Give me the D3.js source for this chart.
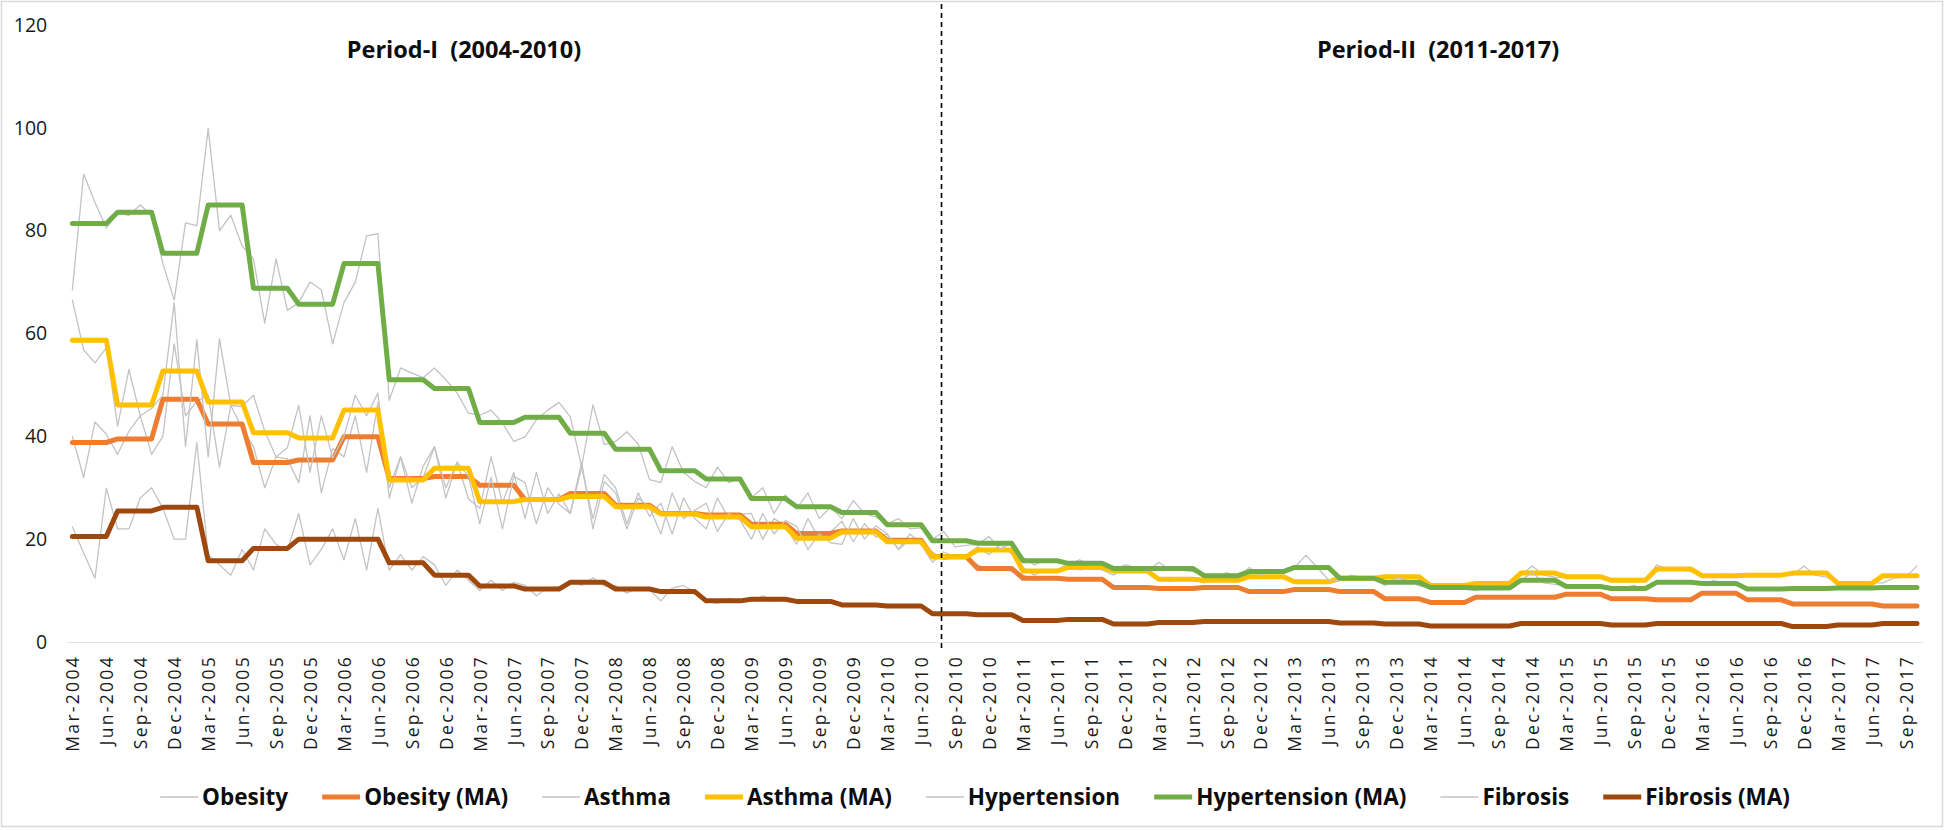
<!DOCTYPE html>
<html>
<head>
<meta charset="utf-8">
<script src="https://cdn.jsdelivr.net/npm/d3@7"></script>
<style>
  html, body { margin: 0; padding: 0; background: #fff; }
  svg { display: block; }
  text { font-family: "Open Sans", "Liberation Sans", sans-serif; }
</style>
</head>
<body>
<script>
// ---------------- DATA ----------------
// Monthly categories Mar-2004 .. Oct-2017 (164 months)
const months = d3.timeMonth.range(new Date(2004, 2, 1), new Date(2017, 10, 1)).map(d3.timeFormat("%b-%Y"));

const tickLabels = [
  "Mar-2004","Jun-2004","Sep-2004","Dec-2004",
  "Mar-2005","Jun-2005","Sep-2005","Dec-2005",
  "Mar-2006","Jun-2006","Sep-2006","Dec-2006",
  "Mar-2007","Jun-2007","Sep-2007","Dec-2007",
  "Mar-2008","Jun-2008","Sep-2008","Dec-2008",
  "Mar-2009","Jun-2009","Sep-2009","Dec-2009",
  "Mar-2010","Jun-2010","Sep-2010","Dec-2010",
  "Mar-2011","Jun-2011","Sep-2011","Dec-2011",
  "Mar-2012","Jun-2012","Sep-2012","Dec-2012",
  "Mar-2013","Jun-2013","Sep-2013","Dec-2013",
  "Mar-2014","Jun-2014","Sep-2014","Dec-2014",
  "Mar-2015","Jun-2015","Sep-2015","Dec-2015",
  "Mar-2016","Jun-2016","Sep-2016","Dec-2016",
  "Mar-2017","Jun-2017","Sep-2017"
];

const yTicks = [0, 20, 40, 60, 80, 100, 120];

const periodLabels = ["Period-I  (2004-2010)", "Period-II  (2011-2017)"];
const dividerAfterMonth = "Jul-2010";

const obesity = [
  40,32,42.8,40.4, 36.5,41,44,36.5, 40,58,44,46.8, 48,34,46,41.6,
  38,30,36,35.6, 31,44,29,37.6, 36,44,33,46.6, 30,36,27,34.2,
  38,28,35,27.8, 26,36,27,33, 24,33,25,28.8, 25,34,24,32.6,
  30,23,29,24.4, 27,21,28,24, 22,28,24,24.8, 25,20,24,22.6,
  19,24,20,21.4, 23.5,19.5,23,20.4, 21,18,21,19.2, 17.5,16,16.5,16.4,
  15,14,14.5,13.7, 13,12,12.5,12.1, 12.5,12,12,12.3, 11,10.5,10.5,10.4,
  10.5,10.2,10.5,10.4, 11,10.3,10.5,10.6, 10,9.5,9.8,9.9, 10.5,10,10.2,10.1,
  10,9.5,9.8,9.9, 8.5,8.2,8.5,8.4, 7.5,7.9,7.6,7.8, 8.5,9,8.6,8.7,
  9,8.5,8.8,8.5, 9.5,9,9.4,9.3, 8.2,8.6,8.3,8.5, 8,8.4,8.1,8.3,
  9.3,9.8,9.4,9.5, 8.5,8,7.9,8.4, 7.5,7.2,7.5,7.4, 7.6,7.2,7.5,7.3,
  7.2,6.9,7,6.9
];

const obesityMA = [
  38.8,38.8,38.8,38.8, 39.5,39.5,39.5,39.5, 47.2,47.2,47.2,47.2, 42.4,42.4,42.4,42.4,
  34.9,34.9,34.9,34.9, 35.4,35.4,35.4,35.4, 39.9,39.9,39.9,39.9, 31.8,31.8,31.8,31.8,
  32.2,32.2,32.2,32.2, 30.5,30.5,30.5,30.5, 27.7,27.7,27.7,27.7, 28.9,28.9,28.9,28.9,
  26.6,26.6,26.6,26.6, 25.0,25.0,25.0,25.0, 24.7,24.7,24.7,24.7, 22.9,22.9,22.9,22.9,
  21.1,21.1,21.1,21.1, 21.6,21.6,21.6,21.6, 19.8,19.8,19.8,19.8, 16.6,16.6,16.6,16.6,
  14.3,14.3,14.3,14.3, 12.4,12.4,12.4,12.4, 12.2,12.2,12.2,12.2, 10.6,10.6,10.6,10.6,
  10.4,10.4,10.4,10.4, 10.6,10.6,10.6,10.6, 9.8,9.8,9.8,9.8, 10.2,10.2,10.2,10.2,
  9.8,9.8,9.8,9.8, 8.4,8.4,8.4,8.4, 7.7,7.7,7.7,7.7, 8.7,8.7,8.7,8.7,
  8.7,8.7,8.7,8.7, 9.3,9.3,9.3,9.3, 8.4,8.4,8.4,8.4, 8.2,8.2,8.2,8.2,
  9.5,9.5,9.5,9.5, 8.2,8.2,8.2,8.2, 7.4,7.4,7.4,7.4, 7.4,7.4,7.4,7.4,
  7.0,7.0,7.0,7.0
];

const asthma = [
  66.5,56.8,54.3,57.2, 42,53,44,45.4, 48,66,38,58.8, 36,59,46,45.8,
  48,41,36,37.8, 46,33,44,35.8, 40,48,44,48.4, 28,36,30,32,
  38,30,35,32.2, 23,32,22,32.2, 31,23,30,26.8, 25,35,22,31.2,
  29,22,28,26.2, 21,29,24,25.6, 27,21.5,25,23.7, 20,25,21,23.6,
  22.5,18,21,19.3, 19,24,20,22.6, 21,18,20,19, 15.5,17.5,16.5,16.9,
  18.5,17,19,17.1, 14.5,13,14,13.7, 15.5,14,14.5,14, 13,14.5,14,13.7,
  12.5,11.8,12.3,12.2, 11.5,12.5,12,12.2, 13,12.5,12.8,12.5, 11.5,12,11.8,11.5,
  12,12.8,12.5,12.3, 13,12.5,12.8,12.5, 11,10.8,11.2,10.8, 11.2,11.6,11.3,11.5,
  13,14.8,13,12.6, 12.5,13,12.6,12.7, 12,12.3,11.8,12.1, 15,14,14,13.8,
  13,12.5,13.2,12.9, 13,13.2,12.8,13, 13,14.8,13,12.6, 11.5,11.2,11.4,11.5,
  11.5,12.5,12.6,14.8
];

const asthmaMA = [
  58.7,58.7,58.7,58.7, 46.1,46.1,46.1,46.1, 52.7,52.7,52.7,52.7, 46.7,46.7,46.7,46.7,
  40.7,40.7,40.7,40.7, 39.7,39.7,39.7,39.7, 45.1,45.1,45.1,45.1, 31.5,31.5,31.5,31.5,
  33.8,33.8,33.8,33.8, 27.3,27.3,27.3,27.3, 27.7,27.7,27.7,27.7, 28.3,28.3,28.3,28.3,
  26.3,26.3,26.3,26.3, 24.9,24.9,24.9,24.9, 24.3,24.3,24.3,24.3, 22.4,22.4,22.4,22.4,
  20.2,20.2,20.2,20.2, 21.4,21.4,21.4,21.4, 19.5,19.5,19.5,19.5, 16.6,16.6,16.6,16.6,
  17.9,17.9,17.9,17.9, 13.8,13.8,13.8,13.8, 14.5,14.5,14.5,14.5, 13.8,13.8,13.8,13.8,
  12.2,12.2,12.2,12.2, 12.0,12.0,12.0,12.0, 12.7,12.7,12.7,12.7, 11.7,11.7,11.7,11.7,
  12.4,12.4,12.4,12.4, 12.7,12.7,12.7,12.7, 11.0,11.0,11.0,11.0, 11.4,11.4,11.4,11.4,
  13.4,13.4,13.4,13.4, 12.7,12.7,12.7,12.7, 12.0,12.0,12.0,12.0, 14.2,14.2,14.2,14.2,
  12.9,12.9,12.9,12.9, 13.0,13.0,13.0,13.0, 13.4,13.4,13.4,13.4, 11.4,11.4,11.4,11.4,
  12.9,12.9,12.9,12.9
];

const hypertension = [
  68.5,91,85.5,80.5, 83.4,83,85,83, 73.6,66.5,81.5,81, 99.9,80,83,77,
  74.5,62,74.5,64.5, 66,70,68.5,58, 66,70,79,79.4, 47,53.3,52.3,51.4,
  53.3,51,48.4,44.5, 44.1,45.1,42.6,39, 39.9,43.2,45.1,46.6, 43.8,34.1,46.1,38.4,
  39,40.9,38.5,31.6, 31,38,33,31.2, 30,34,31,31.8, 28,30,25,28.6,
  26,29,24,26.2, 24,27.5,25,24.3, 23,24,22,22.2, 20,21.5,18.5,18.8,
  19,20.5,18,19.3, 16.5,15,16,15.7, 15,16,15,15.2, 14,15,14.5,13.7,
  15.5,14,14,13.7, 13,12.5,13.5,12.6, 14.5,13,14,13.3, 14.5,16.9,14.5,12.1,
  12,13,12.5,12.1, 11,12.5,12,10.9, 10.5,11,10.5,10.4, 10,11,10.5,10.5,
  12,13.5,11.5,11.2, 11,10.5,11,10.7, 10,10.5,11,10.1, 11.5,12,11.5,11.4,
  11,12,11.5,11.1, 10,10.5,10.5,10.2, 10.5,10,10.5,10.6, 10.5,10.3,10.5,10.7,
  10.3,10.6,10.8,10.7
];

const hypertensionMA = [
  81.4,81.4,81.4,81.4, 83.6,83.6,83.6,83.6, 75.6,75.6,75.6,75.6, 85.0,85.0,85.0,85.0,
  68.8,68.8,68.8,68.8, 65.7,65.7,65.7,65.7, 73.6,73.6,73.6,73.6, 51.0,51.0,51.0,51.0,
  49.3,49.3,49.3,49.3, 42.7,42.7,42.7,42.7, 43.7,43.7,43.7,43.7, 40.6,40.6,40.6,40.6,
  37.5,37.5,37.5,37.5, 33.3,33.3,33.3,33.3, 31.7,31.7,31.7,31.7, 27.9,27.9,27.9,27.9,
  26.3,26.3,26.3,26.3, 25.2,25.2,25.2,25.2, 22.8,22.8,22.8,22.8, 19.7,19.7,19.7,19.7,
  19.2,19.2,19.2,19.2, 15.8,15.8,15.8,15.8, 15.3,15.3,15.3,15.3, 14.3,14.3,14.3,14.3,
  14.3,14.3,14.3,14.3, 12.9,12.9,12.9,12.9, 13.7,13.7,13.7,13.7, 14.5,14.5,14.5,14.5,
  12.4,12.4,12.4,12.4, 11.6,11.6,11.6,11.6, 10.6,10.6,10.6,10.6, 10.5,10.5,10.5,10.5,
  12.0,12.0,12.0,12.0, 10.8,10.8,10.8,10.8, 10.4,10.4,10.4,10.4, 11.6,11.6,11.6,11.6,
  11.4,11.4,11.4,11.4, 10.3,10.3,10.3,10.3, 10.4,10.4,10.4,10.4, 10.5,10.5,10.5,10.5,
  10.6,10.6,10.6,10.6
];

const fibrosis = [
  22.4,17.3,12.4,29.9, 22,22,28,30, 26,20,20,38.8, 17,15,13,18,
  14,22,19,17.8, 25,15,18,22, 16,24,14,26, 14,17,14,16.6,
  15,11,14,12, 10,12,10,11.6, 11,9,10.5,10.7, 12,11,12.5,10.9,
  11,9.5,10.5,10.2, 8,10.5,11,9.7, 8,7.5,8.5,8, 8,9,8,8.2,
  8,7.5,8,8, 7,7.5,7,7.3, 7,7.2,6.8,7, 5.5,5.3,5.5,5.5,
  5.3,5.2,5.3,5.2, 4.2,4.1,4.2,4.1, 4.4,4.5,4.3,4.4, 3.5,3.6,3.4,3.5,
  3.8,3.7,3.8,3.7, 4,3.9,4.1,4, 4,4.1,3.9,4, 4,3.9,4,4.1,
  3.7,3.8,3.6,3.7, 3.5,3.6,3.4,3.5, 3.1,3.2,3,3.1, 3.1,3,3.2,3.1,
  3.6,3.7,3.5,3.6, 3.6,3.5,3.7,3.6, 3.3,3.4,3.2,3.3, 3.6,3.7,3.5,3.6,
  3.6,3.5,3.7,3.6, 3.6,3.7,3.5,3.6, 3,3.1,2.9,3, 3.3,3.2,3.4,3.3,
  3.6,3.5,3.7,3.6
];

const fibrosisMA = [
  20.5,20.5,20.5,20.5, 25.5,25.5,25.5,25.5, 26.2,26.2,26.2,26.2, 15.8,15.8,15.8,15.8,
  18.2,18.2,18.2,18.2, 20.0,20.0,20.0,20.0, 20.0,20.0,20.0,20.0, 15.4,15.4,15.4,15.4,
  13.0,13.0,13.0,13.0, 10.9,10.9,10.9,10.9, 10.3,10.3,10.3,10.3, 11.6,11.6,11.6,11.6,
  10.3,10.3,10.3,10.3, 9.8,9.8,9.8,9.8, 8.0,8.0,8.0,8.0, 8.3,8.3,8.3,8.3,
  7.9,7.9,7.9,7.9, 7.2,7.2,7.2,7.2, 7.0,7.0,7.0,7.0, 5.5,5.5,5.5,5.5,
  5.3,5.3,5.3,5.3, 4.2,4.2,4.2,4.2, 4.4,4.4,4.4,4.4, 3.5,3.5,3.5,3.5,
  3.8,3.8,3.8,3.8, 4.0,4.0,4.0,4.0, 4.0,4.0,4.0,4.0, 4.0,4.0,4.0,4.0,
  3.7,3.7,3.7,3.7, 3.5,3.5,3.5,3.5, 3.1,3.1,3.1,3.1, 3.1,3.1,3.1,3.1,
  3.6,3.6,3.6,3.6, 3.6,3.6,3.6,3.6, 3.3,3.3,3.3,3.3, 3.6,3.6,3.6,3.6,
  3.6,3.6,3.6,3.6, 3.6,3.6,3.6,3.6, 3.0,3.0,3.0,3.0, 3.3,3.3,3.3,3.3,
  3.6,3.6,3.6,3.6
];

// ---------------- CHART ----------------
const W = 1946, H = 830;
const GRAY = "#c3c3c3";
const series = [
  { name: "Obesity",           values: obesity,        color: GRAY,      width: 1.3, ma: false },
  { name: "Obesity (MA)",      values: obesityMA,      color: "#ED7D31", width: 5,   ma: true },
  { name: "Asthma",            values: asthma,         color: GRAY,      width: 1.3, ma: false },
  { name: "Asthma (MA)",       values: asthmaMA,       color: "#FFC000", width: 5,   ma: true },
  { name: "Hypertension",      values: hypertension,   color: GRAY,      width: 1.3, ma: false },
  { name: "Hypertension (MA)", values: hypertensionMA, color: "#70AD47", width: 5,   ma: true },
  { name: "Fibrosis",          values: fibrosis,       color: GRAY,      width: 1.3, ma: false },
  { name: "Fibrosis (MA)",     values: fibrosisMA,     color: "#9E480E", width: 5,   ma: true }
];

const svg = d3.select("body").append("svg").attr("width", W).attr("height", H);
svg.append("rect").attr("width", W).attr("height", H).attr("fill", "#fff");
svg.append("rect").attr("x", 1.5).attr("y", 1.5).attr("width", 1941).attr("height", 825)
  .attr("fill", "none").attr("stroke", "#d9d9d9").attr("stroke-width", 1.5);

const x = d3.scalePoint().domain(months).range([66.7, 1922.7]).padding(0.5);
const y = d3.scaleLinear().domain([0, 120]).range([642, 25]);

// Y axis
const yAxis = svg.append("g").attr("transform", "translate(66.7,0)")
  .call(d3.axisLeft(y).tickValues(yTicks).tickSize(0).tickPadding(19.5));
yAxis.select(".domain").remove();
yAxis.selectAll("text").attr("font-size", 19.5).attr("fill", "#1a1a1a")
  .style("font-family", "'Open Sans', sans-serif");

// X axis
const xAxis = svg.append("g").attr("transform", "translate(0,642)")
  .call(d3.axisBottom(x).tickValues(tickLabels).tickSize(0).tickSizeOuter(0));
xAxis.select(".domain").attr("stroke", "#e3e3e3").attr("stroke-width", 1.2);
xAxis.selectAll("text")
  .attr("transform", "rotate(-90)")
  .attr("text-anchor", "end")
  .attr("x", -13).attr("y", 0).attr("dy", "0.36em")
  .attr("font-size", 17.5).attr("fill", "#1a1a1a")
  .style("letter-spacing", "2.3px")
  .style("font-family", "'Open Sans', sans-serif");

// Lines
const line = d3.line().x((d, i) => x(months[i])).y(d => y(d));
svg.append("g").selectAll("path").data(series).join("path")
  .attr("d", d => line(d.values))
  .attr("fill", "none")
  .attr("stroke", d => d.color)
  .attr("stroke-width", d => d.width)
  .attr("stroke-linejoin", "round")
  .attr("stroke-linecap", "round");

// Divider
const divX = x(dividerAfterMonth) + 0.8 * x.step();
svg.append("line").attr("x1", divX).attr("x2", divX).attr("y1", 4).attr("y2", 648)
  .attr("stroke", "#000").attr("stroke-width", 1.6).attr("stroke-dasharray", "5,4");

// Period titles
svg.selectAll("text.period").data(periodLabels).join("text")
  .attr("class", "period")
  .attr("x", (d, i) => i === 0 ? 464 : 1438)
  .attr("y", 57.5)
  .attr("text-anchor", "middle")
  .attr("font-size", 23.5).attr("font-weight", "bold").attr("fill", "#0d0d0d")
  .style("white-space", "pre")
  .text(d => d);

// Legend
const legend = svg.append("g");
let lx = 0;
series.forEach(s => {
  const g = legend.append("g").attr("transform", `translate(${lx},0)`);
  g.append("line").attr("x1", 0).attr("x2", 38).attr("y1", 0).attr("y2", 0)
    .attr("stroke", s.color).attr("stroke-width", s.ma ? 5 : 1.5);
  const t = g.append("text").attr("x", 42).attr("y", 0).attr("dy", "0.35em")
    .attr("font-size", 22.5).attr("font-weight", "bold").attr("fill", "#0d0d0d")
    .text(s.name);
  lx += 42 + t.node().getComputedTextLength() + 34;
});
const legendW = lx - 34;
legend.attr("transform", `translate(${975 - legendW / 2},797)`);
</script>
</body>
</html>
